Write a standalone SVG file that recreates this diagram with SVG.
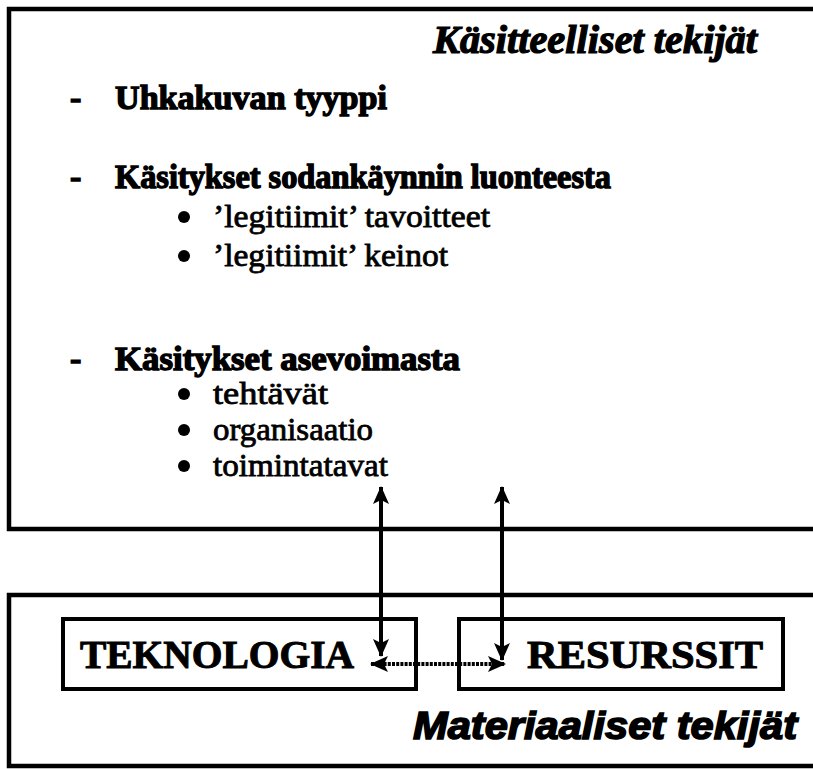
<svg xmlns="http://www.w3.org/2000/svg" width="813" height="769" viewBox="0 0 813 769">
<defs>
<style>
.frame{fill:none;stroke:#000;stroke-width:4.5}
.box{fill:none;stroke:#000;stroke-width:4}
.h{font-family:"Liberation Serif","Times New Roman",serif;font-weight:bold;font-size:34px;fill:#000;stroke:#000;stroke-width:1.4}
.b{font-family:"Liberation Serif","Times New Roman",serif;font-size:32px;fill:#000;stroke:#000;stroke-width:0.8}
.dotb{fill:#000}
.t{font-family:"Liberation Serif","Times New Roman",serif;font-weight:bold;font-size:40px;fill:#000;stroke:#000;stroke-width:1}
.ti{font-family:"Liberation Serif","Times New Roman",serif;font-weight:bold;font-style:italic;font-size:39px;fill:#000;stroke:#000;stroke-width:1.2}
.mi{font-family:"Liberation Sans",Arial,sans-serif;font-weight:bold;font-style:italic;font-size:39px;fill:#000;stroke:#000;stroke-width:1.6}
.conn{fill:none;stroke:#000;stroke-width:4}
.dot{stroke-dasharray:3 1.2}
</style>
<marker id="ah" viewBox="0 0 18 16" refX="17" refY="8" markerWidth="18" markerHeight="16" markerUnits="userSpaceOnUse" orient="auto-start-reverse">
<path d="M0,0 L18,8 L0,16 L4,8 Z" fill="#000"/>
</marker>
</defs>
<rect width="813" height="769" fill="#fff"/>
<g id="kasitteelliset">
<rect class="frame" x="9" y="9" width="830" height="520"/>
<text class="ti" x="433" y="53" textLength="324" lengthAdjust="spacingAndGlyphs">Käsitteelliset tekijät</text>
<text class="h" x="70" y="109">-</text>
<text class="h" x="115" y="109" textLength="272" lengthAdjust="spacingAndGlyphs">Uhkakuvan tyyppi</text>
<text class="h" x="70" y="188">-</text>
<text class="h" x="115" y="188" textLength="496" lengthAdjust="spacingAndGlyphs">Käsitykset sodankäynnin luonteesta</text>
<circle class="dotb" cx="184" cy="217" r="6"/>
<text class="b" x="213" y="227" textLength="277" lengthAdjust="spacingAndGlyphs">’legitiimit’ tavoitteet</text>
<circle class="dotb" cx="184" cy="256" r="6"/>
<text class="b" x="213" y="266" textLength="235" lengthAdjust="spacingAndGlyphs">’legitiimit’ keinot</text>
<text class="h" x="70" y="370">-</text>
<text class="h" x="115" y="370" textLength="345" lengthAdjust="spacingAndGlyphs">Käsitykset asevoimasta</text>
<circle class="dotb" cx="184" cy="394" r="6"/>
<text class="b" x="213" y="404" textLength="115" lengthAdjust="spacingAndGlyphs">tehtävät</text>
<circle class="dotb" cx="184" cy="430" r="6"/>
<text class="b" x="213" y="440" textLength="160" lengthAdjust="spacingAndGlyphs">organisaatio</text>
<circle class="dotb" cx="184" cy="466" r="6"/>
<text class="b" x="213" y="476" textLength="175" lengthAdjust="spacingAndGlyphs">toimintatavat</text>
</g>
<g id="materiaaliset">
<rect class="frame" x="9" y="595" width="830" height="171"/>
<text class="mi" x="413" y="739" textLength="384" lengthAdjust="spacingAndGlyphs">Materiaaliset tekijät</text>
</g>
<g id="teknologia">
<rect class="box" x="63" y="619" width="353" height="70"/>
<text class="t" x="80" y="668" textLength="274" lengthAdjust="spacingAndGlyphs">TEKNOLOGIA</text>
</g>
<g id="resurssit">
<rect class="box" x="459" y="619" width="324" height="70"/>
<text class="t" x="527" y="668" textLength="236" lengthAdjust="spacingAndGlyphs">RESURSSIT</text>
</g>
<g id="connectors">
<line class="conn" x1="381" y1="487" x2="381" y2="656" marker-start="url(#ah)" marker-end="url(#ah)"/>
<line class="conn" x1="502" y1="487" x2="502" y2="660" marker-start="url(#ah)" marker-end="url(#ah)"/>
<line class="conn dot" x1="371" y1="664" x2="505" y2="664" marker-start="url(#ah)" marker-end="url(#ah)"/>
</g>
</svg>
